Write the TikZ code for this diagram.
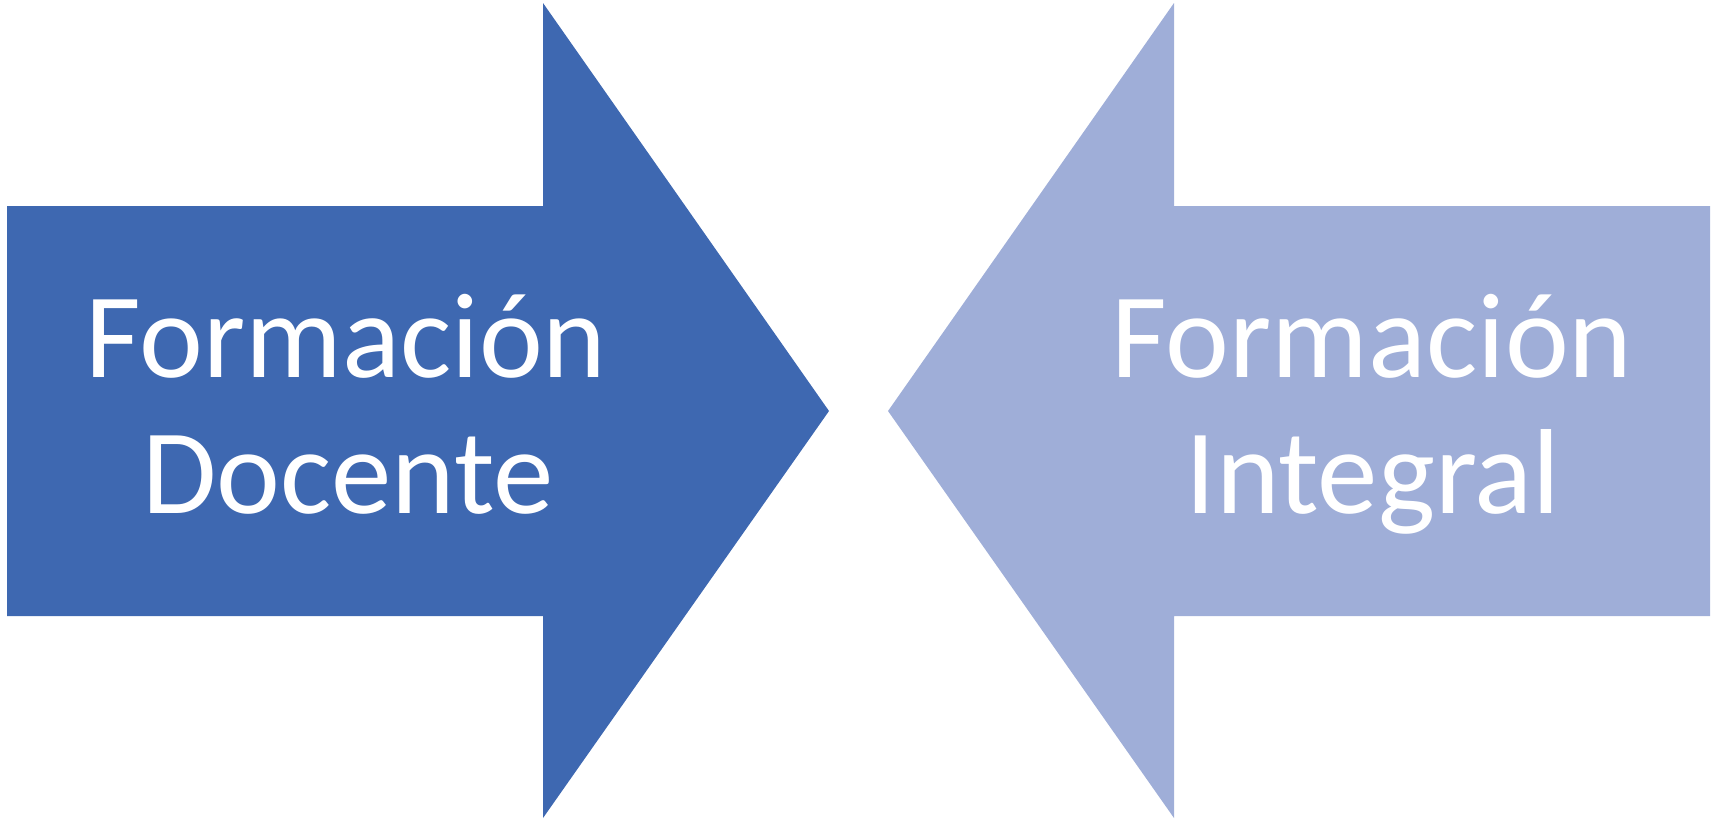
\documentclass[tikz,border=0pt]{standalone}
\usepackage{fontspec}
\setmainfont{Carlito}
\definecolor{darkarrow}{HTML}{3E68B1}
\definecolor{lightarrow}{HTML}{9FAED8}
\tikzset{
  lbl/.style={text=white, anchor=base, inner sep=0pt, font=\fontsize{60.5}{68}\selectfont},
}
\begin{document}
\begin{tikzpicture}[x=0.5pt,y=-0.5pt]
\useasboundingbox (0,0) rectangle (1717,821);
\fill[darkarrow] (7,206) -- (543,206) -- (543,3) -- (829,411) -- (543,818) -- (543,616) -- (7,616) -- cycle;
\fill[lightarrow] (1710,206) -- (1174,206) -- (1174,3) -- (888,411) -- (1174,818) -- (1174,616) -- (1710,616) -- cycle;
\node[lbl] (l1) at (346,377) {Formación};
\node[lbl] (l2) at (348,513) {Docente};
\node[lbl] (r1) at (1372,377) {Formación};
\node[lbl] (r2) at (1373,513) {Integral};
\end{tikzpicture}
\end{document}
